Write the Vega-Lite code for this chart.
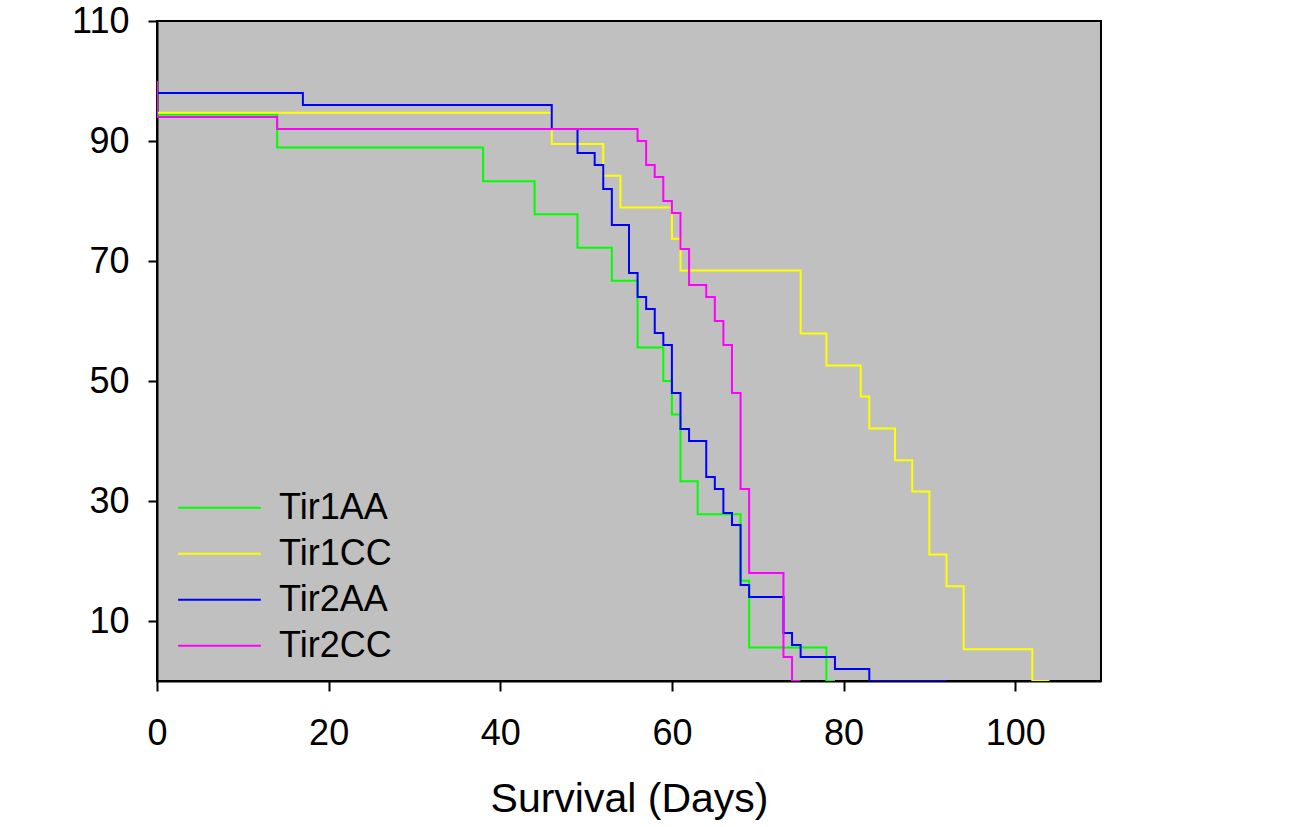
{
  "$schema": "https://vega.github.io/schema/vega-lite/v6.json",
  "width": 944,
  "height": 660,
  "autosize": "none",
  "padding": {"left": 157, "top": 21, "right": 194, "bottom": 146},
  "background": "white",
  "config": {
    "font": "Liberation Sans",
    "view": {"fill": "#C0C0C0", "stroke": "black", "strokeWidth": 2},
    "axis": {
      "domainColor": "black", "domainWidth": 2,
      "tickColor": "black", "tickWidth": 2,
      "labelColor": "black", "titleColor": "black",
      "labelFont": "Liberation Sans", "titleFont": "Liberation Sans",
      "labelFontSize": 36, "titleFontSize": 41,
      "titleFontWeight": "normal", "grid": false
    }
  },
  "data": {
    "values": [
      {"group": "Tir1AA", "day": 0, "surv": 100},
      {"group": "Tir1AA", "day": 0, "surv": 94.4},
      {"group": "Tir1AA", "day": 14, "surv": 88.9},
      {"group": "Tir1AA", "day": 38, "surv": 83.3},
      {"group": "Tir1AA", "day": 44, "surv": 77.8},
      {"group": "Tir1AA", "day": 49, "surv": 72.2},
      {"group": "Tir1AA", "day": 53, "surv": 66.7},
      {"group": "Tir1AA", "day": 56, "surv": 55.6},
      {"group": "Tir1AA", "day": 59, "surv": 50},
      {"group": "Tir1AA", "day": 60, "surv": 44.4},
      {"group": "Tir1AA", "day": 61, "surv": 33.3},
      {"group": "Tir1AA", "day": 63, "surv": 27.8},
      {"group": "Tir1AA", "day": 68, "surv": 16.7},
      {"group": "Tir1AA", "day": 69, "surv": 5.6},
      {"group": "Tir1AA", "day": 78, "surv": 0},
      {"group": "Tir1AA", "day": 79, "surv": 0},

      {"group": "Tir1CC", "day": 0, "surv": 100},
      {"group": "Tir1CC", "day": 0, "surv": 94.7},
      {"group": "Tir1CC", "day": 46, "surv": 89.5},
      {"group": "Tir1CC", "day": 52, "surv": 84.2},
      {"group": "Tir1CC", "day": 54, "surv": 78.9},
      {"group": "Tir1CC", "day": 60, "surv": 73.7},
      {"group": "Tir1CC", "day": 61, "surv": 68.4},
      {"group": "Tir1CC", "day": 75, "surv": 57.9},
      {"group": "Tir1CC", "day": 78, "surv": 52.6},
      {"group": "Tir1CC", "day": 82, "surv": 47.4},
      {"group": "Tir1CC", "day": 83, "surv": 42.1},
      {"group": "Tir1CC", "day": 86, "surv": 36.8},
      {"group": "Tir1CC", "day": 88, "surv": 31.6},
      {"group": "Tir1CC", "day": 90, "surv": 21.1},
      {"group": "Tir1CC", "day": 92, "surv": 15.8},
      {"group": "Tir1CC", "day": 94, "surv": 5.3},
      {"group": "Tir1CC", "day": 102, "surv": 0},
      {"group": "Tir1CC", "day": 104, "surv": 0},

      {"group": "Tir2AA", "day": 0, "surv": 100},
      {"group": "Tir2AA", "day": 0, "surv": 98},
      {"group": "Tir2AA", "day": 17, "surv": 96},
      {"group": "Tir2AA", "day": 46, "surv": 92},
      {"group": "Tir2AA", "day": 49, "surv": 88},
      {"group": "Tir2AA", "day": 51, "surv": 86},
      {"group": "Tir2AA", "day": 52, "surv": 82},
      {"group": "Tir2AA", "day": 53, "surv": 76},
      {"group": "Tir2AA", "day": 55, "surv": 68},
      {"group": "Tir2AA", "day": 56, "surv": 64},
      {"group": "Tir2AA", "day": 57, "surv": 62},
      {"group": "Tir2AA", "day": 58, "surv": 58},
      {"group": "Tir2AA", "day": 59, "surv": 56},
      {"group": "Tir2AA", "day": 60, "surv": 48},
      {"group": "Tir2AA", "day": 61, "surv": 42},
      {"group": "Tir2AA", "day": 62, "surv": 40},
      {"group": "Tir2AA", "day": 64, "surv": 34},
      {"group": "Tir2AA", "day": 65, "surv": 32},
      {"group": "Tir2AA", "day": 66, "surv": 28},
      {"group": "Tir2AA", "day": 67, "surv": 26},
      {"group": "Tir2AA", "day": 68, "surv": 16},
      {"group": "Tir2AA", "day": 69, "surv": 14},
      {"group": "Tir2AA", "day": 73, "surv": 8},
      {"group": "Tir2AA", "day": 74, "surv": 6},
      {"group": "Tir2AA", "day": 75, "surv": 4},
      {"group": "Tir2AA", "day": 79, "surv": 2},
      {"group": "Tir2AA", "day": 83, "surv": 0},
      {"group": "Tir2AA", "day": 92, "surv": 0},

      {"group": "Tir2CC", "day": 0, "surv": 100},
      {"group": "Tir2CC", "day": 0, "surv": 94},
      {"group": "Tir2CC", "day": 14, "surv": 92},
      {"group": "Tir2CC", "day": 56, "surv": 90},
      {"group": "Tir2CC", "day": 57, "surv": 86},
      {"group": "Tir2CC", "day": 58, "surv": 84},
      {"group": "Tir2CC", "day": 59, "surv": 80},
      {"group": "Tir2CC", "day": 60, "surv": 78},
      {"group": "Tir2CC", "day": 61, "surv": 72},
      {"group": "Tir2CC", "day": 62, "surv": 66},
      {"group": "Tir2CC", "day": 64, "surv": 64},
      {"group": "Tir2CC", "day": 65, "surv": 60},
      {"group": "Tir2CC", "day": 66, "surv": 56},
      {"group": "Tir2CC", "day": 67, "surv": 48},
      {"group": "Tir2CC", "day": 68, "surv": 32},
      {"group": "Tir2CC", "day": 69, "surv": 18},
      {"group": "Tir2CC", "day": 73, "surv": 4},
      {"group": "Tir2CC", "day": 74, "surv": 0},
      {"group": "Tir2CC", "day": 75, "surv": 0}
    ]
  },
  "mark": {"type": "line", "interpolate": "step-after", "strokeWidth": 2, "clip": true},
  "encoding": {
    "x": {
      "field": "day", "type": "quantitative",
      "scale": {"domain": [0, 110], "nice": false},
      "axis": {
        "values": [0, 20, 40, 60, 80, 100], "title": "Survival (Days)",
        "tickSize": 10, "labelPadding": 25, "titlePadding": 28, "labelFlush": false
      }
    },
    "y": {
      "field": "surv", "type": "quantitative",
      "scale": {"domain": [0, 110], "nice": false},
      "axis": {
        "values": [10, 30, 50, 70, 90, 110], "title": null,
        "tickSize": 9, "labelPadding": 19, "labelFlush": false
      }
    },
    "order": {"field": "day", "type": "quantitative"},
    "color": {
      "field": "group", "type": "nominal",
      "scale": {
        "domain": ["Tir1AA", "Tir1CC", "Tir2AA", "Tir2CC"],
        "range": ["#00FF00", "#FFFF00", "#0000FF", "#FF00FF"]
      },
      "legend": {
        "title": null, "orient": "none", "legendX": 20, "legendY": 464,
        "symbolType": "stroke", "symbolSize": 6840, "symbolStrokeWidth": 2,
        "labelFontSize": 36, "labelFont": "Liberation Sans", "labelColor": "black",
        "labelOffset": 17, "clipHeight": 45.3, "rowPadding": 0, "padding": 0
      }
    }
  }
}
